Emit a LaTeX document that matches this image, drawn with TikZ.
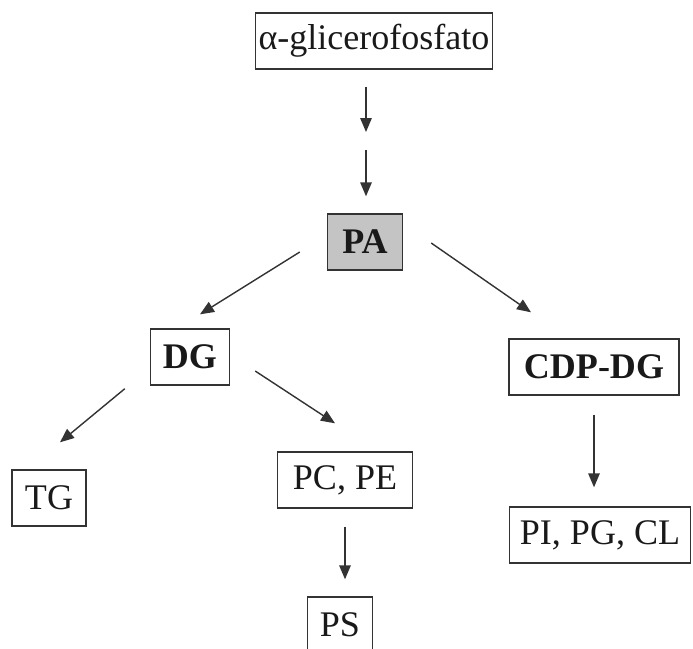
\documentclass[tikz,border=0pt]{standalone}
\usepackage{fontspec}
\setmainfont{Liberation Serif}
\usetikzlibrary{arrows.meta, calc}
\definecolor{pathline}{HTML}{333333}
\definecolor{pafill}{HTML}{C4C4C4}

\begin{document}
\begin{tikzpicture}[
    x=0.02cm, y=-0.02cm,
    box/.style={rectangle, draw=pathline, line width=0.8pt, fill=white, minimum width=#1, minimum height=1.12cm, inner sep=0pt, font=\fontsize{20.5}{24}\selectfont, text=black!90},
    arrow/.style={draw=pathline, line width=0.8pt, -{Triangle[length=0.28cm, width=0.23cm]}}
]
\useasboundingbox (0,0) rectangle (693,649);

% Top of the pathway
\node[box=4.74cm] (glic) at (374,41) {α-glicerofosfato};
\node[box=1.5cm, fill=pafill] (pa) at (365,242) {\bfseries PA};
\coordinate (mid) at (366,141);

% Branches
\node[box=1.58cm] (dg) at (190,357) {\bfseries DG};
\node[box=3.4cm] (cdp) at (594,367) {\bfseries CDP-DG};

% Products
\node[box=1.48cm] (tg) at (49,498) {TG};
\node[box=2.7cm] (pcpe) at (345,480) {PC, PE};
\node[box=1.3cm] (ps) at (340,625) {PS};
\node[box=3.62cm] (pipg) at (600,535) {PI, PG, CL};

% Arrows
\draw[arrow, shorten <=0.34cm, shorten >=0.18cm] (glic.south -| mid) -- (mid);
\draw[arrow, shorten <=0.18cm, shorten >=0.34cm] (mid) -- (mid |- pa.north);
\draw[arrow] ($(pa.west)+(-27,10)$) -- ($(dg.north)+(10,-14)$);
\draw[arrow] ($(pa.east)+(28,1)$) -- ($(cdp.north)+(-63,-26)$);
\draw[arrow] ($(dg.south west)+(-25,3)$) -- ($(tg.north)+(11,-27)$);
\draw[arrow] ($(dg.east)+(25,14)$) -- ($(pcpe.north)+(-10,-28)$);
\draw[arrow, shorten <=0.36cm, shorten >=0.34cm] (pcpe.south) -- (pcpe.south |- ps.north);
\draw[arrow, shorten <=0.38cm, shorten >=0.38cm] (cdp.south) -- (cdp.south |- pipg.north);

\end{tikzpicture}
\end{document}
